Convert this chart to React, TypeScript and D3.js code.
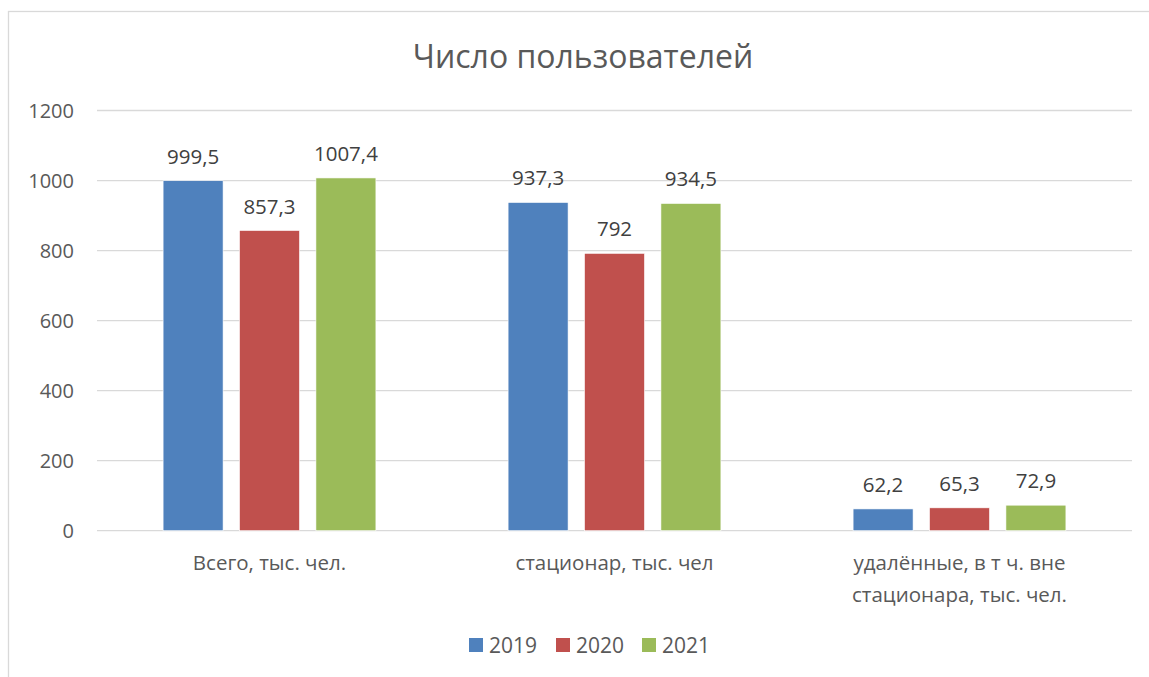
import React, { useEffect, useRef } from 'react'
import * as d3 from 'd3'

const categories = ['Всего, тыс. чел.', 'стационар, тыс. чел', 'удалённые, в т ч. вне стационара, тыс. чел.']
const categoryLines = [['Всего, тыс. чел.'], ['стационар, тыс. чел'], ['удалённые, в т ч. вне', 'стационара, тыс. чел.']]
const seriesNames = ['2019', '2020', '2021']
const values2019 = [999.5, 937.3, 62.2]
const values2020 = [857.3, 792, 65.3]
const values2021 = [1007.4, 934.5, 72.9]
const yTicks = [0, 200, 400, 600, 800, 1000, 1200]
const colors = ['#4f81bd', '#c0504d', '#9bbb59']

const FONT = '"Open Sans", sans-serif'

const App = () => {
  const ref = useRef<SVGSVGElement>(null)

  useEffect(() => {
    const width = 1149
    const height = 677
    const left = 97
    const right = 1132
    const top = 110.5
    const bottom = 530.7

    const svg = d3.select(ref.current)
    svg.selectAll('*').remove()

    svg.append('rect').attr('width', width).attr('height', height).attr('fill', '#fff')

    // chart frame (runs off the right and bottom edge)
    svg
      .append('rect')
      .attr('x', 8.5)
      .attr('y', 11.5)
      .attr('width', width + 20)
      .attr('height', height + 20)
      .attr('fill', 'none')
      .attr('stroke', '#d9d9d9')
      .attr('stroke-width', 1.3)

    const series = [values2019, values2020, values2021]

    const x0 = d3.scaleBand<string>().domain(categories).range([left, right]).padding(0)
    const x1 = d3
      .scaleBand<string>()
      .domain(seriesNames)
      .range([0, x0.bandwidth()])
      .paddingInner(0.215)
      .paddingOuter(0.865)
    const y = d3.scaleLinear().domain([0, 1200]).range([bottom, top])

    svg
      .append('text')
      .attr('x', 583)
      .attr('y', 68)
      .attr('text-anchor', 'middle')
      .style('font-family', FONT)
      .style('font-size', '32px')
      .attr('fill', '#595959')
      .text('Число пользователей')

    svg
      .selectAll('.grid')
      .data(yTicks)
      .enter()
      .append('line')
      .attr('x1', left)
      .attr('x2', right)
      .attr('y1', (d) => y(d))
      .attr('y2', (d) => y(d))
      .attr('stroke', '#d9d9d9')
      .attr('stroke-width', 1.3)

    svg
      .selectAll('.ytick')
      .data(yTicks)
      .enter()
      .append('text')
      .attr('x', 74)
      .attr('y', (d) => y(d) + 7)
      .attr('text-anchor', 'end')
      .style('font-family', FONT)
      .style('font-size', '20px')
      .attr('fill', '#595959')
      .text((d) => String(d))

    const groups = svg
      .selectAll('.group')
      .data(categories)
      .enter()
      .append('g')
      .attr('transform', (d) => `translate(${x0(d)},0)`)

    groups
      .selectAll('rect')
      .data((_, i) => series.map((s, j) => ({ key: seriesNames[j], value: s[i], j })))
      .enter()
      .append('rect')
      .attr('x', (d) => x1(d.key)!)
      .attr('width', x1.bandwidth())
      .attr('y', (d) => y(d.value))
      .attr('height', (d) => y(0) - y(d.value))
      .attr('fill', (d) => colors[d.j])
      .attr('stroke', '#fff')
      .attr('stroke-width', 0.6)

    groups
      .selectAll('.label')
      .data((_, i) => series.map((s, j) => ({ key: seriesNames[j], value: s[i], j })))
      .enter()
      .append('text')
      .attr('x', (d) => x1(d.key)! + x1.bandwidth() / 2)
      .attr('y', (d) => y(d.value) - 17)
      .attr('text-anchor', 'middle')
      .style('font-family', FONT)
      .style('font-size', '20.5px')
      .attr('fill', '#404040')
      .text((d) => String(d.value).replace('.', ','))

    const catLabels = svg
      .selectAll('.cat')
      .data(categories)
      .enter()
      .append('text')
      .attr('text-anchor', 'middle')
      .style('font-family', FONT)
      .style('font-size', '20.5px')
      .attr('fill', '#595959')

    catLabels
      .selectAll('tspan')
      .data((_, i) => categoryLines[i].map((line, k) => ({ line, k, i })))
      .enter()
      .append('tspan')
      .attr('x', (d) => x0(categories[d.i])! + x0.bandwidth() / 2)
      .attr('y', (d) => 570 + d.k * 32)
      .text((d) => d.line)

    const legendX = [469, 556, 642]
    const legend = svg
      .selectAll('.legend')
      .data(seriesNames)
      .enter()
      .append('g')
      .attr('transform', (_, i) => `translate(${legendX[i]},638)`)

    legend
      .append('rect')
      .attr('width', 14)
      .attr('height', 14)
      .attr('fill', (_, i) => colors[i])

    legend
      .append('text')
      .attr('x', 20)
      .attr('y', 14.5)
      .style('font-family', FONT)
      .style('font-size', '21px')
      .attr('fill', '#595959')
      .text((d) => d)
  }, [])

  return (
    <svg
      ref={ref}
      width={1149}
      height={677}
      style={{ position: 'absolute', left: 0, top: 0, display: 'block' }}
    />
  )
}

export default App
